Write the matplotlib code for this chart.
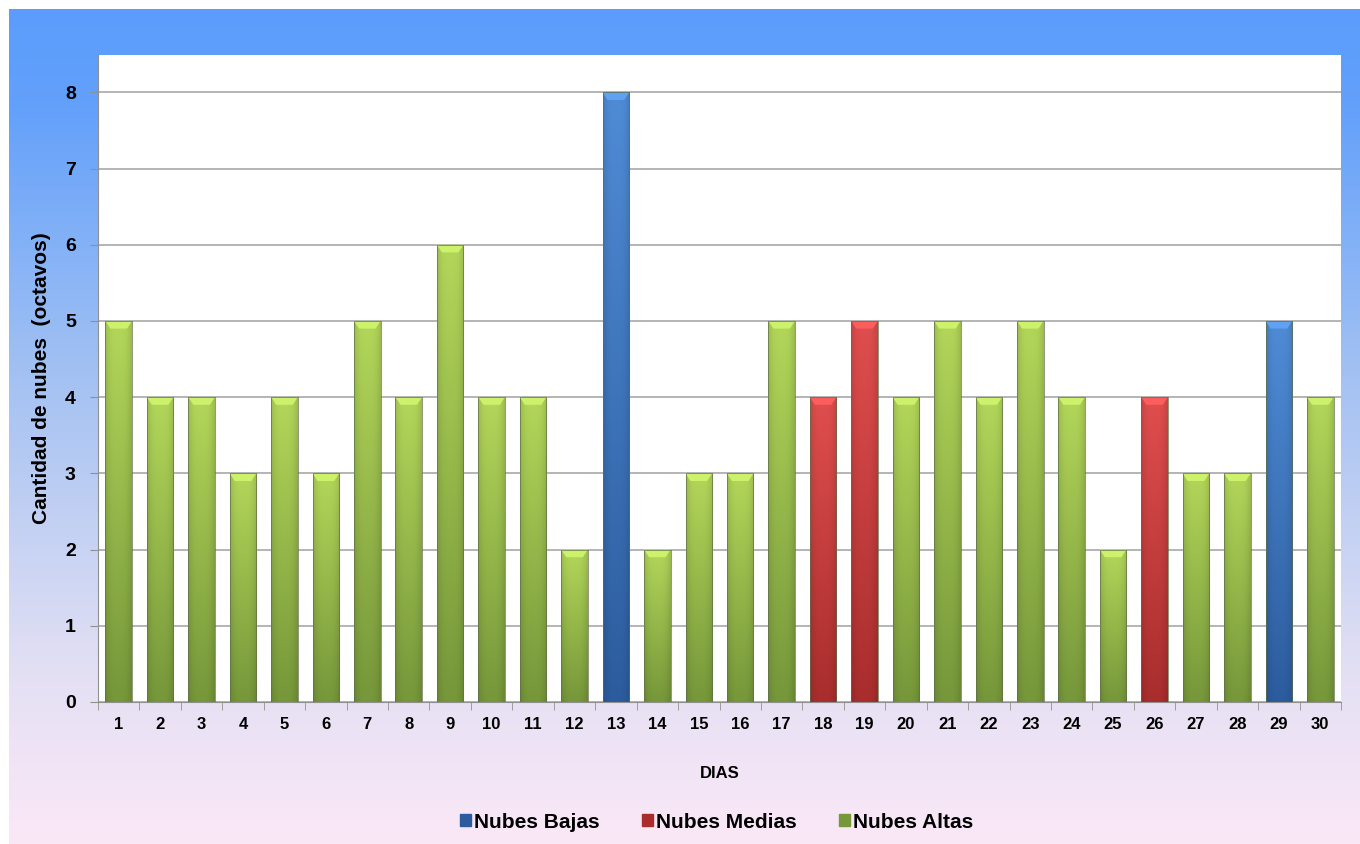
import matplotlib.pyplot as plt
from matplotlib import colors
from matplotlib.patches import Patch
import numpy as np

dias = list(range(1, 31))
valores = [5, 4, 4, 3, 4, 3, 5, 4, 6, 4, 4, 2, 8, 2, 3, 3, 5, 4, 5, 4,
           5, 4, 5, 4, 2, 4, 3, 3, 5, 4]
tipo = ['A', 'A', 'A', 'A', 'A', 'A', 'A', 'A', 'A', 'A', 'A', 'A', 'B', 'A', 'A',
        'A', 'A', 'M', 'M', 'A', 'A', 'A', 'A', 'A', 'A', 'M', 'A', 'A', 'B', 'A']
nombres = {'B': 'Nubes Bajas', 'M': 'Nubes Medias', 'A': 'Nubes Altas'}

# (top colour, bottom colour) of each bar gradient
grad = {'B': ('#4f8cd6', '#2c5c9e'),
        'M': ('#e04e4e', '#a92d2d'),
        'A': ('#b3d75a', '#76973a')}

plt.rcParams['font.family'] = ['Liberation Sans', 'DejaVu Sans']

fig = plt.figure(figsize=(13.6, 8.44), dpi=100)

# background: white frame + blue -> lavender -> pink gradient
bg = fig.add_axes([0, 0, 1, 1], zorder=-10)
bg.set_axis_off()
H, W = 844, 1360
t = np.linspace(0, 1, H)
stops = [(0.0, '#5b9cfd'), (0.12, '#62a0fb'), (0.45, '#a4c2f2'), (0.80, '#e4e0f4'), (1.0, '#fbe8f7')]
img = np.zeros((H, W, 3))
for c in range(3):
    xs = [s[0] for s in stops]
    ys = [colors.to_rgb(s[1])[c] for s in stops]
    img[:, :, c] = np.interp(t, xs, ys)[:, None]
img[:9, :, :] = 1.0
img[:, :9, :] = 1.0
bg.imshow(img, extent=(0, 1, 0, 1), aspect='auto')
bg.set_xlim(0, 1)
bg.set_ylim(0, 1)

ax = fig.add_axes([98 / 1360, 1 - 702 / 844, (1341 - 98) / 1360, (702 - 55) / 844])
ax.set_facecolor('white')

x = np.arange(len(dias))
bw = 0.64
bars = ax.bar(x, valores, width=bw, color='none', edgecolor='#60704a', linewidth=0.5, zorder=3)

for b, v, k in zip(bars, valores, tipo):
    top = np.array(colors.to_rgb(grad[k][0]))
    bot = np.array(colors.to_rgb(grad[k][1]))
    ny, nx = 100, 30
    fy = np.linspace(0, 1, ny)[:, None, None]
    g = top * (1 - fy) + bot * fy
    hx = np.linspace(-1, 1, nx)
    shade = 1 - 0.12 * np.abs(hx) ** 3
    g = g * shade[None, :, None]
    g = np.broadcast_to(g, (ny, nx, 3)).copy()
    x0 = b.get_x()
    im = ax.imshow(g, extent=(x0, x0 + bw, 0, v), aspect='auto', zorder=2)
    im.set_clip_path(b)
    # bevel on top
    bh = 0.1
    light = np.clip(top * 1.08 + 0.04, 0, 1)
    ax.fill([x0, x0 + bw, x0 + bw - 0.12, x0 + 0.12], [v, v, v - bh, v - bh],
            color=light, lw=0, zorder=2.5)

ax.set_xlim(-0.5, len(dias) - 0.5)
ax.set_ylim(0, 8.49)
ax.set_yticks(range(0, 9))
ax.yaxis.grid(True, color='#a0a0a0', lw=1.1)
ax.set_axisbelow(True)
ax.set_xticks(x)
ax.set_xticklabels([str(d) for d in dias], fontsize=12, fontweight='bold')
ax.set_xticks(np.arange(-0.5, len(dias)), minor=True)
ax.tick_params(axis='x', which='major', length=0, pad=11)
ax.tick_params(axis='x', which='minor', length=6, color='#909090')
ax.tick_params(axis='y', length=6, color='#909090', labelsize=14, pad=10)
for lbl in ax.get_yticklabels():
    lbl.set_fontweight('bold')
for s in ['top', 'right']:
    ax.spines[s].set_visible(False)
ax.spines['left'].set_color('#909090')
ax.spines['bottom'].set_color('#909090')

ax.set_ylabel('Cantidad de nubes  (octavos)', fontsize=15, fontweight='bold', labelpad=10)
ax.set_xlabel('DIAS', fontsize=12, fontweight='bold', labelpad=24)

handles = [Patch(facecolor=grad[k][1], edgecolor=grad[k][1], label=nombres[k]) for k in ['B', 'M', 'A']]
fig.legend(handles=handles, loc='center', bbox_to_anchor=(0.527, 0.026), ncol=3,
           frameon=False, prop={'size': 15, 'weight': 'bold'},
           handlelength=0.55, handleheight=0.55, handletextpad=0.15, columnspacing=2.0)

plt.savefig('out.png', dpi=100)
